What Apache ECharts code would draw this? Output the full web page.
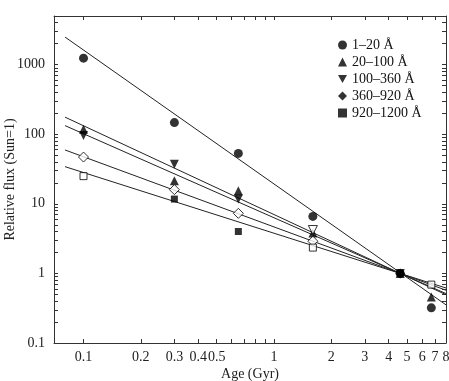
<!DOCTYPE html>
<html>
<head>
<meta charset="utf-8">
<script src="https://cdn.jsdelivr.net/npm/echarts@6/dist/echarts.min.js"></script>
<style>
html, body { margin: 0; padding: 0; background: #fff; }
#main { width: 449px; height: 381px; }
</style>
</head>
<body>
<div id="main"></div>
<script>
// 各波段数据 [年龄(Gyr), 相对流量]
var bandNames = [ '1–20 Å', '20–100 Å', '100–360 Å', '360–920 Å', '920–1200 Å' ];

var circleFilled = [ [ 0.1, 1240 ], [ 0.3, 147 ], [ 0.65, 53 ], [ 1.6, 6.6 ], [ 4.6, 1 ], [ 6.7, 0.32 ] ];
var triUpFilled = [ [ 0.1, 118 ], [ 0.3, 21.5 ], [ 0.65, 15.4 ], [ 1.6, 3.8 ], [ 4.6, 1 ], [ 6.7, 0.46 ] ];
var triDownFilled = [ [ 0.1, 96 ], [ 0.3, 37 ], [ 0.65, 11.7 ], [ 4.6, 1 ] ];
var triDownOpen = [ [ 1.6, 4.2 ] ];
var diamondFilled = [ [ 4.6, 1 ] ];
var diamondOpen = [ [ 0.1, 47 ], [ 0.3, 16 ], [ 0.65, 7.3 ], [ 1.6, 2.9 ] ];
var squareFilled = [ [ 0.3, 11.7 ], [ 0.65, 4.0 ], [ 4.6, 1 ] ];
var squareOpen = [ [ 0.1, 25 ], [ 1.6, 2.35 ], [ 6.7, 0.69 ] ];

// 拟合直线端点
var fitAges = [ 0.08, 8 ];
var fitCircle = [ 2490, 0.353 ];
var fitTriUp = [ 176, 0.494 ];
var fitTriDown = [ 133, 0.513 ];
var fitDiamond = [ 59.4, 0.573 ];
var fitSquare = [ 34.2, 0.617 ];

// 刻度
var xTicks = [ 0.1, 0.2, 0.3, 0.4, 0.5, 0.6, 0.7, 0.8, 0.9, 1, 2, 3, 4, 5, 6, 7, 8 ];
var xLabels = [ 0.1, 0.2, 0.3, 0.4, 0.5, 1, 2, 3, 4, 5, 6, 7, 8 ];
var yLabels = [ 0.1, 1, 10, 100, 1000 ];
var yTicks = [];
for ( var d = 0; d < yLabels.length; d++) {
	for ( var m = 1; m <= 9; m++) {
		var v = +(yLabels[d] * m).toPrecision(3);
		if (v <= 5000) {
			yTicks.push(v);
		}
	}
}

var triDownPath = 'path://M0,0 L10,0 L5,9 Z';
var font = 'Liberation Serif';

function fitLine(values) {
	return [ [ fitAges[0], values[0] ], [ fitAges[1], values[1] ] ];
}

function lineSeries(values) {
	return {
		type : 'line',
		data : fitLine(values),
		symbol : 'none',
		silent : true,
		z : 1,
		lineStyle : {
			color : '#222',
			width : 1
		}
	};
}

function markSeries(name, data, symbol, size, hollow) {
	return {
		name : name,
		type : 'scatter',
		data : data,
		symbol : symbol,
		symbolSize : size,
		z : hollow ? 4 : 3,
		itemStyle : {
			color : hollow ? '#fff' : '#000',
			borderColor : '#000',
			borderWidth : hollow ? 1 : 0
		}
	};
}

function axisCommon(type, pos, min, max, ticks, labels) {
	return {
		type : type,
		position : pos,
		min : min,
		max : max,
		logBase : 10,
		splitLine : {
			show : false
		},
		axisLine : {
			show : true,
			lineStyle : {
				color : '#333',
				width : 1
			}
		},
		axisTick : {
			show : true,
			inside : true,
			length : 4,
			customValues : ticks,
			lineStyle : {
				color : '#333'
			}
		},
		axisLabel : {
			show : labels != null,
			customValues : labels || [],
			fontFamily : font,
			fontSize : 14,
			color : '#222',
			formatter : function(val) {
				return String(+val.toPrecision(3));
			}
		}
	};
}

var myChart = echarts.init(document.getElementById('main'));

var xBottom = axisCommon('log', 'bottom', 0.07, 8, xTicks, xLabels);
xBottom.name = 'Age (Gyr)';
xBottom.nameLocation = 'middle';
xBottom.nameGap = 24;
xBottom.nameMoveOverlap = false;
xBottom.nameTextStyle = {
	fontFamily : font,
	fontSize : 14,
	color : '#222'
};
xBottom.axisLabel.margin = 7;

var yLeft = axisCommon('log', 'left', 0.1, 5000, yTicks, yLabels);
yLeft.name = 'Relative flux (Sun=1)';
yLeft.nameLocation = 'middle';
yLeft.nameGap = 37;
yLeft.nameMoveOverlap = false;
yLeft.nameTextStyle = {
	fontFamily : font,
	fontSize : 14,
	color : '#222'
};
yLeft.axisLabel.margin = 9;

var xTop = axisCommon('log', 'top', 0.07, 8, xTicks, null);
var yRight = axisCommon('log', 'right', 0.1, 5000, yTicks, null);

var option = {
	animation : false,
	grid : {
		left : 54,
		right : 3,
		top : 16,
		bottom : 38,
		containLabel : false,
		outerBoundsMode : 'none'
	},
	legend : { // 图例
		orient : 'vertical',
		left : 333,
		top : 33,
		itemWidth : 9,
		itemHeight : 9,
		itemGap : 3,
		textStyle : {
			fontFamily : font,
			fontSize : 14,
			color : '#111',
			lineHeight : 14
		},
		data : [ {
			name : bandNames[0],
			icon : 'circle'
		}, {
			name : bandNames[1],
			icon : 'triangle'
		}, {
			name : bandNames[2],
			icon : triDownPath
		}, {
			name : bandNames[3],
			icon : 'diamond'
		}, {
			name : bandNames[4],
			icon : 'rect'
		} ]
	},
	xAxis : [ xBottom, xTop ],
	yAxis : [ yLeft, yRight ],
	series : [
		lineSeries(fitCircle),
		lineSeries(fitTriUp),
		lineSeries(fitTriDown),
		lineSeries(fitDiamond),
		lineSeries(fitSquare),
		markSeries(bandNames[0], circleFilled, 'circle', 9, false),
		markSeries(bandNames[1], triUpFilled, 'triangle', 9, false),
		markSeries(bandNames[2], triDownFilled, triDownPath, 9, false),
		markSeries(bandNames[3], diamondFilled, 'diamond', 10, false),
		markSeries(bandNames[4], squareFilled, 'rect', 7, false),
		markSeries(bandNames[2], triDownOpen, triDownPath, 9, true),
		markSeries(bandNames[3], diamondOpen, 'diamond', 10, true),
		markSeries(bandNames[4], squareOpen, 'rect', 7, true)
	]
};

myChart.setOption(option);
</script>
</body>
</html>
